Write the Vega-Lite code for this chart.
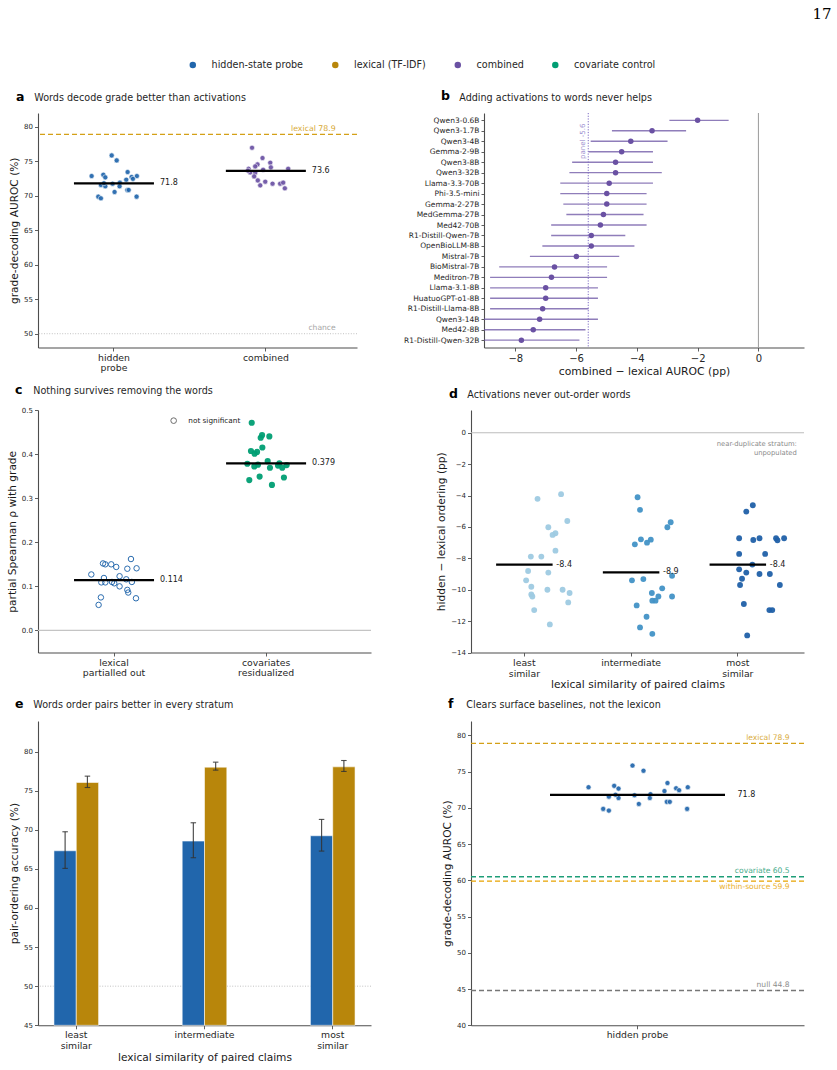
{
  "$schema": "https://vega.github.io/schema/vega-lite/v6.json",
  "background": "#ffffff",
  "padding": {"left": 7, "top": 7, "right": 2, "bottom": 4},
  "title": {"text": "17", "font": "DejaVu Serif", "fontSize": 15, "fontWeight": "normal", "color": "#000000", "anchor": "end", "frame": "bounds", "dx": 27, "offset": 38},
  "config": {
    "font": "DejaVu Sans",
    "view": {"stroke": null},
    "axis": {"domainColor": "#4d4d4d", "domainWidth": 1.1, "tickColor": "#4d4d4d", "tickWidth": 0.9, "tickSize": 3.5, "labelColor": "#262626", "labelFont": "DejaVu Sans", "titleFont": "DejaVu Sans", "titleColor": "#1a1a1a", "titleFontWeight": "normal", "titleFontSize": 10.6, "labelFontSize": 7, "grid": false, "labelPadding": 2, "titlePadding": 4, "labelOverlap": false},
    "axisX": {"labelFontSize": 9.3, "labelAngle": 0, "labelLineHeight": 10.5, "titlePadding": 1},
    "axisY": {"labelFontSize": 7, "labelOverlap": false},
    "title": {"anchor": "start", "frame": "group", "font": "DejaVu Sans", "fontSize": 12.5, "fontWeight": "bold", "color": "#000000", "subtitleFont": "DejaVu Sans", "subtitleFontSize": 9.6, "subtitleColor": "#1f1f1f", "subtitlePadding": -10, "offset": 10},
    "legend": {"labelFont": "DejaVu Sans"}
  },
  "datasets": {
    "references": [
      {"name": "chance", "value": 50},
      {"name": "lexical", "value": 78.9},
      {"name": "covariate", "value": 60.5},
      {"name": "within-source", "value": 59.9},
      {"name": "null", "value": 44.8}
    ],
    "auroc": [
      {"condition": "hidden probe", "method": "hidden-state probe", "auroc": 72.86, "jitter": -0.147},
      {"condition": "hidden probe", "method": "hidden-state probe", "auroc": 75.85, "jitter": -0.015},
      {"condition": "hidden probe", "method": "hidden-state probe", "auroc": 75.13, "jitter": 0.018},
      {"condition": "hidden probe", "method": "hidden-state probe", "auroc": 73.05, "jitter": -0.07},
      {"condition": "hidden probe", "method": "hidden-state probe", "auroc": 72.67, "jitter": -0.057},
      {"condition": "hidden probe", "method": "hidden-state probe", "auroc": 73.44, "jitter": 0.09},
      {"condition": "hidden probe", "method": "hidden-state probe", "auroc": 72.72, "jitter": 0.116},
      {"condition": "hidden probe", "method": "hidden-state probe", "auroc": 72.86, "jitter": 0.151},
      {"condition": "hidden probe", "method": "hidden-state probe", "auroc": 72.33, "jitter": 0.081},
      {"condition": "hidden probe", "method": "hidden-state probe", "auroc": 72.45, "jitter": 0.125},
      {"condition": "hidden probe", "method": "hidden-state probe", "auroc": 71.56, "jitter": -0.086},
      {"condition": "hidden probe", "method": "hidden-state probe", "auroc": 71.37, "jitter": -0.057},
      {"condition": "hidden probe", "method": "hidden-state probe", "auroc": 71.75, "jitter": -0.009},
      {"condition": "hidden probe", "method": "hidden-state probe", "auroc": 71.9, "jitter": 0.039},
      {"condition": "hidden probe", "method": "hidden-state probe", "auroc": 71.37, "jitter": 0.037},
      {"condition": "hidden probe", "method": "hidden-state probe", "auroc": 71.82, "jitter": -0.066},
      {"condition": "hidden probe", "method": "hidden-state probe", "auroc": 70.55, "jitter": 0.004},
      {"condition": "hidden probe", "method": "hidden-state probe", "auroc": 70.84, "jitter": 0.088},
      {"condition": "hidden probe", "method": "hidden-state probe", "auroc": 70.84, "jitter": 0.097},
      {"condition": "hidden probe", "method": "hidden-state probe", "auroc": 69.87, "jitter": -0.103},
      {"condition": "hidden probe", "method": "hidden-state probe", "auroc": 69.63, "jitter": -0.086},
      {"condition": "hidden probe", "method": "hidden-state probe", "auroc": 69.87, "jitter": 0.149},
      {"condition": "combined", "method": "combined", "auroc": 76.96, "jitter": -0.091},
      {"condition": "combined", "method": "combined", "auroc": 75.47, "jitter": -0.022},
      {"condition": "combined", "method": "combined", "auroc": 74.79, "jitter": 0.029},
      {"condition": "combined", "method": "combined", "auroc": 74.55, "jitter": -0.055},
      {"condition": "combined", "method": "combined", "auroc": 74.26, "jitter": -0.07},
      {"condition": "combined", "method": "combined", "auroc": 73.92, "jitter": -0.114},
      {"condition": "combined", "method": "combined", "auroc": 74.12, "jitter": 0.033},
      {"condition": "combined", "method": "combined", "auroc": 73.78, "jitter": -0.018},
      {"condition": "combined", "method": "combined", "auroc": 73.92, "jitter": 0.147},
      {"condition": "combined", "method": "combined", "auroc": 73.39, "jitter": -0.103},
      {"condition": "combined", "method": "combined", "auroc": 73.34, "jitter": -0.07},
      {"condition": "combined", "method": "combined", "auroc": 73.65, "jitter": -0.118},
      {"condition": "combined", "method": "combined", "auroc": 72.81, "jitter": -0.077},
      {"condition": "combined", "method": "combined", "auroc": 72.23, "jitter": -0.053},
      {"condition": "combined", "method": "combined", "auroc": 72.04, "jitter": -0.004},
      {"condition": "combined", "method": "combined", "auroc": 71.51, "jitter": -0.037},
      {"condition": "combined", "method": "combined", "auroc": 71.75, "jitter": 0.044},
      {"condition": "combined", "method": "combined", "auroc": 71.75, "jitter": 0.094},
      {"condition": "combined", "method": "combined", "auroc": 71.9, "jitter": 0.114},
      {"condition": "combined", "method": "combined", "auroc": 71.08, "jitter": 0.125}
    ],
    "auroc_means": [
      {"condition": "hidden probe", "mean": 71.8},
      {"condition": "combined", "mean": 73.6}
    ],
    "forest": [
      {"model": "Qwen3-0.6B", "delta": -2.0, "lo": -2.93, "hi": -0.98},
      {"model": "Qwen3-1.7B", "delta": -3.5, "lo": -4.82, "hi": -2.38},
      {"model": "Qwen3-4B", "delta": -4.2, "lo": -5.52, "hi": -2.99},
      {"model": "Gemma-2-9B", "delta": -4.5, "lo": -5.59, "hi": -3.47},
      {"model": "Qwen3-8B", "delta": -4.7, "lo": -6.13, "hi": -3.47},
      {"model": "Qwen3-32B", "delta": -4.7, "lo": -6.22, "hi": -3.18},
      {"model": "Llama-3.3-70B", "delta": -4.91, "lo": -6.52, "hi": -3.47},
      {"model": "Phi-3.5-mini", "delta": -4.99, "lo": -6.52, "hi": -3.68},
      {"model": "Gemma-2-27B", "delta": -4.99, "lo": -6.42, "hi": -3.68},
      {"model": "MedGemma-27B", "delta": -5.1, "lo": -6.32, "hi": -3.78},
      {"model": "Med42-70B", "delta": -5.2, "lo": -6.82, "hi": -3.68},
      {"model": "R1-Distill-Qwen-7B", "delta": -5.5, "lo": -6.82, "hi": -4.38},
      {"model": "OpenBioLLM-8B", "delta": -5.5, "lo": -7.11, "hi": -4.08},
      {"model": "Mistral-7B", "delta": -5.99, "lo": -7.52, "hi": -4.58},
      {"model": "BioMistral-7B", "delta": -6.71, "lo": -8.53, "hi": -4.98},
      {"model": "Meditron-7B", "delta": -6.81, "lo": -8.83, "hi": -4.98},
      {"model": "Llama-3.1-8B", "delta": -7.0, "lo": -8.83, "hi": -5.28},
      {"model": "HuatuoGPT-o1-8B", "delta": -7.0, "lo": -8.83, "hi": -5.28},
      {"model": "R1-Distill-Llama-8B", "delta": -7.1, "lo": -8.83, "hi": -5.59},
      {"model": "Qwen3-14B", "delta": -7.2, "lo": -9.3, "hi": -5.28},
      {"model": "Med42-8B", "delta": -7.41, "lo": -9.3, "hi": -5.69},
      {"model": "R1-Distill-Qwen-32B", "delta": -7.8, "lo": -9.3, "hi": -5.89}
    ],
    "forest_summary": [{"mean": -5.6}],
    "partial": [
      {"condition": "lexical partialled out", "method": "hidden-state probe", "significance": "not significant", "rho": 0.127, "jitter": -0.149},
      {"condition": "lexical partialled out", "method": "hidden-state probe", "significance": "not significant", "rho": 0.152, "jitter": -0.072},
      {"condition": "lexical partialled out", "method": "hidden-state probe", "significance": "not significant", "rho": 0.15, "jitter": -0.057},
      {"condition": "lexical partialled out", "method": "hidden-state probe", "significance": "not significant", "rho": 0.15, "jitter": -0.018},
      {"condition": "lexical partialled out", "method": "hidden-state probe", "significance": "not significant", "rho": 0.144, "jitter": 0.015},
      {"condition": "lexical partialled out", "method": "hidden-state probe", "significance": "not significant", "rho": 0.162, "jitter": 0.112},
      {"condition": "lexical partialled out", "method": "hidden-state probe", "significance": "not significant", "rho": 0.14, "jitter": 0.088},
      {"condition": "lexical partialled out", "method": "hidden-state probe", "significance": "not significant", "rho": 0.141, "jitter": 0.149},
      {"condition": "lexical partialled out", "method": "hidden-state probe", "significance": "not significant", "rho": 0.119, "jitter": -0.066},
      {"condition": "lexical partialled out", "method": "hidden-state probe", "significance": "not significant", "rho": 0.123, "jitter": 0.037},
      {"condition": "lexical partialled out", "method": "hidden-state probe", "significance": "not significant", "rho": 0.116, "jitter": 0.081},
      {"condition": "lexical partialled out", "method": "hidden-state probe", "significance": "not significant", "rho": 0.109, "jitter": -0.083},
      {"condition": "lexical partialled out", "method": "hidden-state probe", "significance": "not significant", "rho": 0.109, "jitter": -0.057},
      {"condition": "lexical partialled out", "method": "hidden-state probe", "significance": "not significant", "rho": 0.11, "jitter": -0.013},
      {"condition": "lexical partialled out", "method": "hidden-state probe", "significance": "not significant", "rho": 0.107, "jitter": 0.002},
      {"condition": "lexical partialled out", "method": "hidden-state probe", "significance": "not significant", "rho": 0.11, "jitter": 0.118},
      {"condition": "lexical partialled out", "method": "hidden-state probe", "significance": "not significant", "rho": 0.1, "jitter": 0.037},
      {"condition": "lexical partialled out", "method": "hidden-state probe", "significance": "not significant", "rho": 0.092, "jitter": 0.088},
      {"condition": "lexical partialled out", "method": "hidden-state probe", "significance": "not significant", "rho": 0.086, "jitter": 0.094},
      {"condition": "lexical partialled out", "method": "hidden-state probe", "significance": "not significant", "rho": 0.075, "jitter": -0.086},
      {"condition": "lexical partialled out", "method": "hidden-state probe", "significance": "not significant", "rho": 0.073, "jitter": 0.145},
      {"condition": "lexical partialled out", "method": "hidden-state probe", "significance": "not significant", "rho": 0.058, "jitter": -0.101},
      {"condition": "covariates residualized", "method": "covariate control", "significance": "significant", "rho": 0.471, "jitter": -0.094},
      {"condition": "covariates residualized", "method": "covariate control", "significance": "significant", "rho": 0.443, "jitter": -0.026},
      {"condition": "covariates residualized", "method": "covariate control", "significance": "significant", "rho": 0.437, "jitter": -0.035},
      {"condition": "covariates residualized", "method": "covariate control", "significance": "significant", "rho": 0.44, "jitter": 0.022},
      {"condition": "covariates residualized", "method": "covariate control", "significance": "significant", "rho": 0.415, "jitter": -0.024},
      {"condition": "covariates residualized", "method": "covariate control", "significance": "significant", "rho": 0.407, "jitter": -0.099},
      {"condition": "covariates residualized", "method": "covariate control", "significance": "significant", "rho": 0.401, "jitter": -0.075},
      {"condition": "covariates residualized", "method": "covariate control", "significance": "significant", "rho": 0.405, "jitter": -0.059},
      {"condition": "covariates residualized", "method": "covariate control", "significance": "significant", "rho": 0.378, "jitter": -0.123},
      {"condition": "covariates residualized", "method": "covariate control", "significance": "significant", "rho": 0.376, "jitter": -0.053},
      {"condition": "covariates residualized", "method": "covariate control", "significance": "significant", "rho": 0.372, "jitter": -0.077},
      {"condition": "covariates residualized", "method": "covariate control", "significance": "significant", "rho": 0.384, "jitter": 0.011},
      {"condition": "covariates residualized", "method": "covariate control", "significance": "significant", "rho": 0.379, "jitter": 0.088},
      {"condition": "covariates residualized", "method": "covariate control", "significance": "significant", "rho": 0.374, "jitter": 0.079},
      {"condition": "covariates residualized", "method": "covariate control", "significance": "significant", "rho": 0.369, "jitter": 0.107},
      {"condition": "covariates residualized", "method": "covariate control", "significance": "significant", "rho": 0.375, "jitter": 0.136},
      {"condition": "covariates residualized", "method": "covariate control", "significance": "significant", "rho": 0.369, "jitter": 0.026},
      {"condition": "covariates residualized", "method": "covariate control", "significance": "significant", "rho": 0.341, "jitter": -0.11},
      {"condition": "covariates residualized", "method": "covariate control", "significance": "significant", "rho": 0.349, "jitter": -0.042},
      {"condition": "covariates residualized", "method": "covariate control", "significance": "significant", "rho": 0.347, "jitter": 0.118},
      {"condition": "covariates residualized", "method": "covariate control", "significance": "significant", "rho": 0.33, "jitter": 0.039}
    ],
    "partial_means": [
      {"condition": "lexical partialled out", "mean": 0.114},
      {"condition": "covariates residualized", "mean": 0.379}
    ],
    "strata": [
      {"stratum": "least similar", "diff": -3.91, "jitter": 0.093},
      {"stratum": "least similar", "diff": -4.21, "jitter": -0.062},
      {"stratum": "least similar", "diff": -5.62, "jitter": 0.134},
      {"stratum": "least similar", "diff": -6.02, "jitter": 0.009},
      {"stratum": "least similar", "diff": -6.4, "jitter": 0.056},
      {"stratum": "least similar", "diff": -6.51, "jitter": 0.037},
      {"stratum": "least similar", "diff": -7.51, "jitter": 0.056},
      {"stratum": "least similar", "diff": -7.89, "jitter": -0.106},
      {"stratum": "least similar", "diff": -7.89, "jitter": -0.037},
      {"stratum": "least similar", "diff": -8.81, "jitter": -0.124},
      {"stratum": "least similar", "diff": -8.91, "jitter": 0.009},
      {"stratum": "least similar", "diff": -9.4, "jitter": -0.137},
      {"stratum": "least similar", "diff": -9.81, "jitter": -0.103},
      {"stratum": "least similar", "diff": -10.0, "jitter": 0.003},
      {"stratum": "least similar", "diff": -10.0, "jitter": 0.103},
      {"stratum": "least similar", "diff": -10.21, "jitter": 0.149},
      {"stratum": "least similar", "diff": -10.3, "jitter": -0.103},
      {"stratum": "least similar", "diff": -10.43, "jitter": -0.096},
      {"stratum": "least similar", "diff": -10.81, "jitter": 0.14},
      {"stratum": "least similar", "diff": -11.3, "jitter": -0.084},
      {"stratum": "least similar", "diff": -12.21, "jitter": 0.019},
      {"stratum": "intermediate", "diff": -4.11, "jitter": -0.106},
      {"stratum": "intermediate", "diff": -4.91, "jitter": -0.09},
      {"stratum": "intermediate", "diff": -5.7, "jitter": 0.112},
      {"stratum": "intermediate", "diff": -6.02, "jitter": 0.09},
      {"stratum": "intermediate", "diff": -6.79, "jitter": -0.084},
      {"stratum": "intermediate", "diff": -6.81, "jitter": -0.019},
      {"stratum": "intermediate", "diff": -7.11, "jitter": -0.124},
      {"stratum": "intermediate", "diff": -7.0, "jitter": -0.044},
      {"stratum": "intermediate", "diff": -9.4, "jitter": -0.143},
      {"stratum": "intermediate", "diff": -9.32, "jitter": -0.068},
      {"stratum": "intermediate", "diff": -9.11, "jitter": 0.121},
      {"stratum": "intermediate", "diff": -9.91, "jitter": 0.056},
      {"stratum": "intermediate", "diff": -10.21, "jitter": -0.012},
      {"stratum": "intermediate", "diff": -10.43, "jitter": 0.031},
      {"stratum": "intermediate", "diff": -10.7, "jitter": -0.009},
      {"stratum": "intermediate", "diff": -10.7, "jitter": 0.012},
      {"stratum": "intermediate", "diff": -10.43, "jitter": 0.121},
      {"stratum": "intermediate", "diff": -11.0, "jitter": -0.112},
      {"stratum": "intermediate", "diff": -11.72, "jitter": -0.047},
      {"stratum": "intermediate", "diff": -12.4, "jitter": -0.09},
      {"stratum": "intermediate", "diff": -12.81, "jitter": -0.009},
      {"stratum": "most similar", "diff": -4.62, "jitter": -0.05},
      {"stratum": "most similar", "diff": -5.02, "jitter": -0.093},
      {"stratum": "most similar", "diff": -6.72, "jitter": -0.14},
      {"stratum": "most similar", "diff": -6.72, "jitter": -0.006},
      {"stratum": "most similar", "diff": -6.83, "jitter": -0.047},
      {"stratum": "most similar", "diff": -6.72, "jitter": 0.103},
      {"stratum": "most similar", "diff": -6.72, "jitter": 0.156},
      {"stratum": "most similar", "diff": -6.85, "jitter": 0.112},
      {"stratum": "most similar", "diff": -7.72, "jitter": -0.14},
      {"stratum": "most similar", "diff": -7.72, "jitter": 0.031},
      {"stratum": "most similar", "diff": -8.4, "jitter": -0.053},
      {"stratum": "most similar", "diff": -8.7, "jitter": -0.14},
      {"stratum": "most similar", "diff": -8.91, "jitter": -0.093},
      {"stratum": "most similar", "diff": -9.0, "jitter": -0.006},
      {"stratum": "most similar", "diff": -9.0, "jitter": 0.062},
      {"stratum": "most similar", "diff": -9.3, "jitter": -0.121},
      {"stratum": "most similar", "diff": -9.7, "jitter": -0.134},
      {"stratum": "most similar", "diff": -9.7, "jitter": 0.128},
      {"stratum": "most similar", "diff": -10.91, "jitter": -0.109},
      {"stratum": "most similar", "diff": -11.3, "jitter": 0.059},
      {"stratum": "most similar", "diff": -11.3, "jitter": 0.078},
      {"stratum": "most similar", "diff": -12.91, "jitter": -0.087}
    ],
    "strata_means": [
      {"stratum": "least similar", "mean": -8.4},
      {"stratum": "intermediate", "mean": -8.9},
      {"stratum": "most similar", "mean": -8.4}
    ],
    "pairs": [
      {"stratum": "least similar", "method": "hidden-state probe", "acc": 67.31, "lo": 65.06, "hi": 69.74},
      {"stratum": "least similar", "method": "lexical (TF-IDF)", "acc": 76.04, "lo": 75.4, "hi": 76.85},
      {"stratum": "intermediate", "method": "hidden-state probe", "acc": 68.55, "lo": 66.42, "hi": 70.89},
      {"stratum": "intermediate", "method": "lexical (TF-IDF)", "acc": 78.0, "lo": 77.62, "hi": 78.64},
      {"stratum": "most similar", "method": "hidden-state probe", "acc": 69.23, "lo": 67.27, "hi": 71.32},
      {"stratum": "most similar", "method": "lexical (TF-IDF)", "acc": 78.04, "lo": 77.45, "hi": 78.85}
    ]
  },
  "spacing": 7,
  "resolve": {"scale": {"color": "independent", "shape": "independent"}, "legend": {"color": "independent", "shape": "independent"}},
  "vconcat": [
    {
      "width": 766,
      "height": 1,
      "data": {"values": []},
      "mark": {"type": "circle"},
      "encoding": {
        "color": {
          "field": "method", "type": "nominal",
          "scale": {"domain": ["hidden-state probe", "lexical (TF-IDF)", "combined", "covariate control"], "range": ["#2166ac", "#b8860b", "#6a51a3", "#009e73"]},
          "legend": {"orient": "none", "legendX": 150, "legendY": -22, "direction": "horizontal", "title": null, "symbolType": "circle", "symbolSize": 42, "symbolOpacity": 1, "symbolStrokeWidth": 0, "labelFontSize": 9.6, "labelColor": "#262626", "labelOffset": 14, "columnPadding": 26.5, "labelLimit": 300}
        }
      }
    },
    {
      "bounds": "flush",
      "spacing": 127,
      "resolve": {"scale": {"color": "independent", "shape": "independent"}, "legend": {"color": "independent", "shape": "independent"}},
      "hconcat": [
        {
          "width": 319,
          "height": 234.5,
          "title": {"text": "a", "subtitle": "\u200b\u00a0\u00a0\u00a0\u00a0\u00a0\u00a0Words decode grade better than activations", "dx": -22},
          "layer": [
            {
              "data": {"name": "references"},
              "transform": [{"filter": "datum.name == 'chance'"}],
              "mark": {"type": "rule", "color": "#b3b3b3", "strokeWidth": 0.8, "strokeDash": [1, 1.6]},
              "encoding": {"y": {"field": "value", "type": "quantitative", "title": "grade-decoding AUROC (%)", "scale": {"domain": [48, 82], "nice": false, "zero": false}, "axis": {"values": [50, 55, 60, 65, 70, 75, 80], "tickCount": 20, "format": "d", "labelOverlap": false}}}
            },
            {
              "data": {"name": "references"},
              "transform": [{"filter": "datum.name == 'chance'"}],
              "mark": {"type": "text", "align": "right", "baseline": "bottom", "dy": -2, "fontSize": 7.6, "color": "#a6a6a6"},
              "encoding": {"x": {"datum": "combined"}, "xOffset": {"datum": 0.46}, "y": {"field": "value", "type": "quantitative", "title": "grade-decoding AUROC (%)"}, "text": {"field": "name"}}
            },
            {
              "data": {"name": "references"},
              "transform": [{"filter": "datum.name == 'lexical'"}],
              "mark": {"type": "rule", "color": "#d4a017", "strokeWidth": 1.3, "strokeDash": [5, 3]},
              "encoding": {"y": {"field": "value", "type": "quantitative", "title": "grade-decoding AUROC (%)"}}
            },
            {
              "data": {"name": "references"},
              "transform": [{"filter": "datum.name == 'lexical'"}, {"calculate": "datum.name + ' ' + datum.value", "as": "label"}],
              "mark": {"type": "text", "align": "right", "baseline": "bottom", "dy": -1.5, "fontSize": 7.8, "color": "#d4a017", "opacity": 0.9},
              "encoding": {"x": {"datum": "combined"}, "xOffset": {"datum": 0.46}, "y": {"field": "value", "type": "quantitative", "title": "grade-decoding AUROC (%)"}, "text": {"field": "label"}}
            },
            {
              "data": {"name": "auroc"},
              "mark": {"type": "circle", "size": 26, "opacity": 0.92, "stroke": "#ffffff", "strokeWidth": 0.6},
              "encoding": {
                "x": {"field": "condition", "type": "nominal", "scale": {"type": "band", "domain": ["hidden probe", "combined"], "paddingInner": 0, "paddingOuter": 0.05, "align": 0}, "axis": {"title": null, "labelExpr": "split(datum.label, ' ')", "labelLineHeight": 10}},
                "xOffset": {"field": "jitter", "type": "quantitative", "scale": {"domain": [-0.5, 0.5]}},
                "y": {"field": "auroc", "type": "quantitative", "title": "grade-decoding AUROC (%)", "axis": {"values": [50, 55, 60, 65, 70, 75, 80], "tickCount": 20, "format": "d", "labelOverlap": false}},
                "color": {"field": "method", "type": "nominal", "scale": {"domain": ["hidden-state probe", "lexical (TF-IDF)", "combined", "covariate control"], "range": ["#2166ac", "#b8860b", "#6a51a3", "#009e73"]}, "legend": null}
              }
            },
            {
              "data": {"name": "auroc_means"},
              "mark": {"type": "tick", "orient": "horizontal", "size": 80, "thickness": 2.2, "color": "#000000", "opacity": 1},
              "encoding": {"x": {"field": "condition", "type": "nominal"}, "y": {"field": "mean", "type": "quantitative", "title": "grade-decoding AUROC (%)"}}
            },
            {
              "data": {"name": "auroc_means"},
              "transform": [{"calculate": "'' + datum.mean", "as": "lbl"}],
              "mark": {"type": "text", "align": "left", "baseline": "middle", "dx": 46, "fontSize": 8, "color": "#1a1a1a"},
              "encoding": {"x": {"field": "condition", "type": "nominal"}, "y": {"field": "mean", "type": "quantitative", "title": "grade-decoding AUROC (%)"}, "text": {"field": "lbl"}}
            }
          ]
        },
        {
          "width": 320,
          "height": 234.5,
          "title": {"text": "b", "subtitle": "\u200b\u00a0\u00a0\u00a0\u00a0\u00a0\u00a0Adding activations to words never helps", "dx": -43},
          "layer": [
            {
              "data": {"values": [{}]},
              "mark": {"type": "rule", "color": "#9a9a9a", "strokeWidth": 1},
              "encoding": {"x": {"datum": 0, "type": "quantitative"}}
            },
            {
              "data": {"name": "forest"},
              "mark": {"type": "rule", "color": "#6a51a3", "opacity": 0.75, "strokeWidth": 1.4, "clip": true},
              "encoding": {
                "y": {"field": "model", "type": "nominal", "scale": {"type": "point", "padding": 0.7, "domain": ["Qwen3-0.6B", "Qwen3-1.7B", "Qwen3-4B", "Gemma-2-9B", "Qwen3-8B", "Qwen3-32B", "Llama-3.3-70B", "Phi-3.5-mini", "Gemma-2-27B", "MedGemma-27B", "Med42-70B", "R1-Distill-Qwen-7B", "OpenBioLLM-8B", "Mistral-7B", "BioMistral-7B", "Meditron-7B", "Llama-3.1-8B", "HuatuoGPT-o1-8B", "R1-Distill-Llama-8B", "Qwen3-14B", "Med42-8B", "R1-Distill-Qwen-32B"]}, "axis": {"title": null, "labelFontSize": 7.5, "tickSize": 3, "labelPadding": 2}},
                "x": {"field": "lo", "type": "quantitative", "title": "combined − lexical AUROC (pp)", "scale": {"domain": [-9.03, 1.5], "nice": false, "zero": false}, "axis": {"values": [-8, -6, -4, -2, 0], "tickCount": 20, "format": "d", "labelFontSize": 10, "titleFontSize": 10.8, "titlePadding": 2}},
                "x2": {"field": "hi"}
              }
            },
            {
              "data": {"name": "forest"},
              "mark": {"type": "circle", "size": 30, "color": "#6a51a3", "opacity": 1},
              "encoding": {
                "y": {"field": "model", "type": "nominal"},
                "x": {"field": "delta", "type": "quantitative", "title": "combined − lexical AUROC (pp)"}
              }
            },
            {
              "data": {"name": "forest_summary"},
              "mark": {"type": "rule", "color": "#7d6bc4", "strokeWidth": 1, "strokeDash": [1.2, 1.5]},
              "encoding": {"x": {"field": "mean", "type": "quantitative", "title": "combined − lexical AUROC (pp)"}}
            },
            {
              "data": {"name": "forest_summary"},
              "transform": [{"calculate": "'panel ' + datum.mean", "as": "lbl"}],
              "mark": {"type": "text", "angle": 270, "align": "center", "baseline": "bottom", "dy": -2, "fontSize": 7, "color": "#9d8fd0"},
              "encoding": {"x": {"field": "mean", "type": "quantitative", "title": "combined − lexical AUROC (pp)"}, "y": {"datum": "Qwen3-4B", "type": "nominal"}, "text": {"field": "lbl"}}
            }
          ]
        }
      ]
    },
    {
      "bounds": "flush",
      "spacing": 100,
      "resolve": {"scale": {"color": "independent", "shape": "independent"}, "legend": {"color": "independent", "shape": "independent"}},
      "hconcat": [
        {
          "width": 333,
          "height": 242.5,
          "title": {"text": "c", "subtitle": "\u200b\u00a0\u00a0\u00a0\u00a0\u00a0\u00a0Nothing survives removing the words", "dx": -23, "offset": 10},
          "layer": [
            {
              "data": {"values": [{}]},
              "mark": {"type": "rule", "color": "#c4c4c4", "strokeWidth": 1.3},
              "encoding": {"y": {"datum": 0, "type": "quantitative", "title": "partial Spearman ρ with grade", "scale": {"domain": [-0.05, 0.5], "nice": false, "zero": false}, "axis": {"values": [0, 0.1, 0.2, 0.3, 0.4, 0.5], "tickCount": 20, "format": ".1f", "labelOverlap": false}}}
            },
            {
              "data": {"name": "partial"},
              "transform": [{"filter": "datum.significance == 'not significant'"}],
              "mark": {"type": "point", "filled": false, "size": 30, "strokeWidth": 1, "opacity": 0.95},
              "encoding": {
                "x": {"field": "condition", "type": "nominal", "scale": {"type": "band", "domain": ["lexical partialled out", "covariates residualized"], "paddingInner": 0, "paddingOuter": 0.095, "align": 0}, "axis": {"title": null, "labelExpr": "datum.label == 'lexical partialled out' ? ['lexical', 'partialled out'] : ['covariates', 'residualized']", "labelLineHeight": 10.5}},
                "xOffset": {"field": "jitter", "type": "quantitative", "scale": {"domain": [-0.5, 0.5]}},
                "y": {"field": "rho", "type": "quantitative", "title": "partial Spearman ρ with grade", "axis": {"values": [0, 0.1, 0.2, 0.3, 0.4, 0.5], "tickCount": 20, "format": ".1f", "labelOverlap": false}},
                "color": {"field": "method", "type": "nominal", "scale": {"domain": ["hidden-state probe", "lexical (TF-IDF)", "combined", "covariate control"], "range": ["#2166ac", "#b8860b", "#6a51a3", "#009e73"]}, "legend": null},
                "shape": {"field": "significance", "type": "nominal", "scale": {"domain": ["not significant"], "range": ["circle"]}, "legend": {"orient": "none", "legendX": 132, "legendY": 7, "title": null, "symbolFillColor": "transparent", "symbolStrokeColor": "#666666", "symbolStrokeWidth": 1, "symbolSize": 32, "labelFontSize": 7.3, "labelOffset": 11, "labelColor": "#222222"}}
              }
            },
            {
              "data": {"name": "partial"},
              "transform": [{"filter": "datum.significance == 'significant'"}],
              "mark": {"type": "circle", "size": 38, "opacity": 0.95},
              "encoding": {
                "x": {"field": "condition", "type": "nominal"},
                "xOffset": {"field": "jitter", "type": "quantitative"},
                "y": {"field": "rho", "type": "quantitative", "title": "partial Spearman ρ with grade"},
                "color": {"field": "method", "type": "nominal", "legend": null}
              }
            },
            {
              "data": {"name": "partial_means"},
              "mark": {"type": "tick", "orient": "horizontal", "size": 80, "thickness": 2.2, "color": "#000000", "opacity": 1},
              "encoding": {"x": {"field": "condition", "type": "nominal"}, "y": {"field": "mean", "type": "quantitative", "title": "partial Spearman ρ with grade"}}
            },
            {
              "data": {"name": "partial_means"},
              "transform": [{"calculate": "'' + datum.mean", "as": "lbl"}],
              "mark": {"type": "text", "align": "left", "baseline": "middle", "dx": 46, "fontSize": 8, "color": "#1a1a1a"},
              "encoding": {"x": {"field": "condition", "type": "nominal"}, "y": {"field": "mean", "type": "quantitative", "title": "partial Spearman ρ with grade"}, "text": {"field": "lbl"}}
            }
          ]
        },
        {
          "width": 333,
          "height": 242.5,
          "title": {"text": "d", "subtitle": "\u200b\u00a0\u00a0\u00a0\u00a0\u00a0\u00a0Activations never out-order words", "dx": -22, "offset": 10},
          "layer": [
            {
              "data": {"values": [{}]},
              "mark": {"type": "rule", "color": "#bdbdbd", "strokeWidth": 1.2},
              "encoding": {"y": {"datum": 0, "type": "quantitative", "title": "hidden − lexical ordering (pp)", "scale": {"domain": [-14, 1.45], "nice": false, "zero": false}, "axis": {"values": [-14, -12, -10, -8, -6, -4, -2, 0], "tickCount": 20, "format": "d", "labelOverlap": false}}}
            },
            {
              "data": {"name": "strata"},
              "mark": {"type": "circle", "size": 34, "opacity": 0.95},
              "encoding": {
                "x": {"field": "stratum", "type": "nominal", "scale": {"type": "band", "domain": ["least similar", "intermediate", "most similar"], "paddingInner": 0, "paddingOuter": 0.06, "align": 0}, "axis": {"title": "lexical similarity of paired claims", "labelExpr": "split(datum.label, ' ')", "labelLineHeight": 11}},
                "xOffset": {"field": "jitter", "type": "quantitative", "scale": {"domain": [-0.5, 0.5]}},
                "y": {"field": "diff", "type": "quantitative", "title": "hidden − lexical ordering (pp)", "axis": {"values": [-14, -12, -10, -8, -6, -4, -2, 0], "tickCount": 20, "format": "d", "labelOverlap": false}},
                "color": {"field": "stratum", "type": "nominal", "scale": {"domain": ["least similar", "intermediate", "most similar"], "range": ["#9ecae1", "#4292c6", "#2060a8"]}, "legend": null}
              }
            },
            {
              "data": {"name": "strata_means"},
              "mark": {"type": "tick", "orient": "horizontal", "size": 56.5, "thickness": 2.2, "color": "#000000", "opacity": 1},
              "encoding": {"x": {"field": "stratum", "type": "nominal"}, "y": {"field": "mean", "type": "quantitative", "title": "hidden − lexical ordering (pp)"}}
            },
            {
              "data": {"name": "strata_means"},
              "transform": [{"calculate": "'' + datum.mean", "as": "lbl"}],
              "mark": {"type": "text", "align": "left", "baseline": "middle", "dx": 32, "fontSize": 8, "color": "#1a1a1a"},
              "encoding": {"x": {"field": "stratum", "type": "nominal"}, "y": {"field": "mean", "type": "quantitative", "title": "hidden − lexical ordering (pp)"}, "text": {"field": "lbl"}}
            },
            {
              "data": {"values": [{}]},
              "mark": {"type": "text", "align": "right", "baseline": "top", "fontSize": 6.8, "lineHeight": 8.5, "color": "#8a8a8a", "text": ["near-duplicate stratum:", "unpopulated"]},
              "encoding": {"x": {"datum": "most similar"}, "xOffset": {"datum": 0.24}, "y": {"datum": -0.55, "type": "quantitative"}}
            }
          ]
        }
      ]
    },
    {
      "bounds": "flush",
      "spacing": 100,
      "resolve": {"scale": {"color": "independent", "shape": "independent"}, "legend": {"color": "independent", "shape": "independent"}},
      "hconcat": [
        {
          "width": 333,
          "height": 304.3,
          "title": {"text": "e", "subtitle": "\u200b\u00a0\u00a0\u00a0\u00a0\u00a0\u00a0Words order pairs better in every stratum", "dx": -23, "offset": 11},
          "layer": [
            {
              "data": {"name": "references"},
              "transform": [{"filter": "datum.name == 'chance'"}],
              "mark": {"type": "rule", "color": "#b3b3b3", "strokeWidth": 0.8, "strokeDash": [1, 1.6]},
              "encoding": {"y": {"field": "value", "type": "quantitative", "title": "pair-ordering accuracy (%)", "scale": {"domain": [45, 83.9], "nice": false, "zero": false}, "axis": {"values": [45, 50, 55, 60, 65, 70, 75, 80], "tickCount": 20, "format": "d", "labelOverlap": false}}}
            },
            {
              "data": {"name": "pairs"},
              "mark": {"type": "bar", "stroke": "#ffffff", "strokeWidth": 0.8, "strokeOpacity": 0.7},
              "encoding": {
                "x": {"field": "stratum", "type": "nominal", "scale": {"type": "band", "domain": ["least similar", "intermediate", "most similar"], "paddingInner": 0.652, "paddingOuter": 0.1245}, "axis": {"title": "lexical similarity of paired claims", "labelExpr": "split(datum.label, ' ')", "labelLineHeight": 11}},
                "xOffset": {"field": "method", "type": "nominal", "scale": {"domain": ["hidden-state probe", "lexical (TF-IDF)"], "paddingInner": 0, "paddingOuter": 0}},
                "y": {"field": "acc", "type": "quantitative", "title": "pair-ordering accuracy (%)", "axis": {"values": [45, 50, 55, 60, 65, 70, 75, 80], "tickCount": 20, "format": "d", "labelOverlap": false}},
                "y2": {"datum": 45},
                "color": {"field": "method", "type": "nominal", "scale": {"domain": ["hidden-state probe", "lexical (TF-IDF)", "combined", "covariate control"], "range": ["#2166ac", "#b8860b", "#6a51a3", "#009e73"]}, "legend": null}
              }
            },
            {
              "data": {"name": "pairs"},
              "mark": {"type": "rule", "color": "#333333", "opacity": 0.85, "strokeWidth": 1.2},
              "encoding": {
                "x": {"field": "stratum", "type": "nominal"},
                "xOffset": {"field": "method", "type": "nominal"},
                "y": {"field": "lo", "type": "quantitative", "title": "pair-ordering accuracy (%)"},
                "y2": {"field": "hi"}
              }
            },
            {
              "data": {"name": "pairs"},
              "mark": {"type": "tick", "orient": "horizontal", "size": 5.5, "thickness": 1.1, "color": "#333333", "opacity": 0.85},
              "encoding": {
                "x": {"field": "stratum", "type": "nominal"},
                "xOffset": {"field": "method", "type": "nominal"},
                "y": {"field": "lo", "type": "quantitative", "title": "pair-ordering accuracy (%)"}
              }
            },
            {
              "data": {"name": "pairs"},
              "mark": {"type": "tick", "orient": "horizontal", "size": 5.5, "thickness": 1.1, "color": "#333333", "opacity": 0.85},
              "encoding": {
                "x": {"field": "stratum", "type": "nominal"},
                "xOffset": {"field": "method", "type": "nominal"},
                "y": {"field": "hi", "type": "quantitative", "title": "pair-ordering accuracy (%)"}
              }
            }
          ]
        },
        {
          "width": 333,
          "height": 304.3,
          "title": {"text": "f", "subtitle": "\u200b\u00a0\u00a0\u00a0\u00a0\u00a0\u00a0Clears surface baselines, not the lexicon", "dx": -23, "offset": 11},
          "layer": [
            {
              "data": {"name": "references"},
              "transform": [{"filter": "datum.name != 'chance'"}],
              "mark": {"type": "rule", "strokeWidth": 1.3, "strokeDash": [5, 3]},
              "encoding": {
                "y": {"field": "value", "type": "quantitative", "title": "grade-decoding AUROC (%)", "scale": {"domain": [40, 82], "nice": false, "zero": false}, "axis": {"values": [40, 45, 50, 55, 60, 65, 70, 75, 80], "tickCount": 20, "format": "d", "labelOverlap": false}},
                "color": {"field": "name", "type": "nominal", "scale": {"domain": ["lexical", "covariate", "within-source", "null"], "range": ["#d4a017", "#1f9e78", "#e8a300", "#777777"]}, "legend": null}
              }
            },
            {
              "data": {"name": "references"},
              "transform": [{"filter": "datum.name != 'chance' && datum.name != 'within-source'"}, {"calculate": "datum.name + ' ' + datum.value", "as": "label"}],
              "mark": {"type": "text", "align": "right", "baseline": "bottom", "dy": -1.5, "fontSize": 7.6, "opacity": 0.85},
              "encoding": {
                "x": {"datum": "hidden probe"},
                "xOffset": {"datum": 0.457},
                "y": {"field": "value", "type": "quantitative", "title": "grade-decoding AUROC (%)"},
                "color": {"field": "name", "type": "nominal", "legend": null},
                "text": {"field": "label"}
              }
            },
            {
              "data": {"name": "references"},
              "transform": [{"filter": "datum.name == 'within-source'"}, {"calculate": "datum.name + ' ' + datum.value", "as": "label"}],
              "mark": {"type": "text", "align": "right", "baseline": "top", "dy": 1.5, "fontSize": 7.6, "opacity": 0.85},
              "encoding": {
                "x": {"datum": "hidden probe"},
                "xOffset": {"datum": 0.457},
                "y": {"field": "value", "type": "quantitative", "title": "grade-decoding AUROC (%)"},
                "color": {"field": "name", "type": "nominal", "legend": null},
                "text": {"field": "label"}
              }
            },
            {
              "data": {"name": "auroc"},
              "transform": [{"filter": "datum.condition == 'hidden probe'"}],
              "mark": {"type": "circle", "size": 26, "opacity": 0.92, "color": "#2166ac", "stroke": "#ffffff", "strokeWidth": 0.6},
              "encoding": {
                "x": {"field": "condition", "type": "nominal", "scale": {"type": "band", "domain": ["hidden probe"], "paddingInner": 0, "paddingOuter": 0}, "axis": {"title": null}},
                "xOffset": {"field": "jitter", "type": "quantitative", "scale": {"domain": [-0.5, 0.5]}},
                "y": {"field": "auroc", "type": "quantitative", "title": "grade-decoding AUROC (%)", "axis": {"values": [40, 45, 50, 55, 60, 65, 70, 75, 80], "tickCount": 20, "format": "d", "labelOverlap": false}}
              }
            },
            {
              "data": {"name": "auroc_means"},
              "transform": [{"filter": "datum.condition == 'hidden probe'"}],
              "mark": {"type": "tick", "orient": "horizontal", "size": 175, "thickness": 2.2, "color": "#000000", "opacity": 1},
              "encoding": {"x": {"field": "condition", "type": "nominal"}, "y": {"field": "mean", "type": "quantitative", "title": "grade-decoding AUROC (%)"}}
            },
            {
              "data": {"name": "auroc_means"},
              "transform": [{"filter": "datum.condition == 'hidden probe'"}, {"calculate": "'' + datum.mean", "as": "lbl"}],
              "mark": {"type": "text", "align": "left", "baseline": "middle", "dx": 100, "fontSize": 8, "color": "#1a1a1a"},
              "encoding": {"x": {"field": "condition", "type": "nominal"}, "y": {"field": "mean", "type": "quantitative", "title": "grade-decoding AUROC (%)"}, "text": {"field": "lbl"}}
            }
          ]
        }
      ]
    }
  ]
}
